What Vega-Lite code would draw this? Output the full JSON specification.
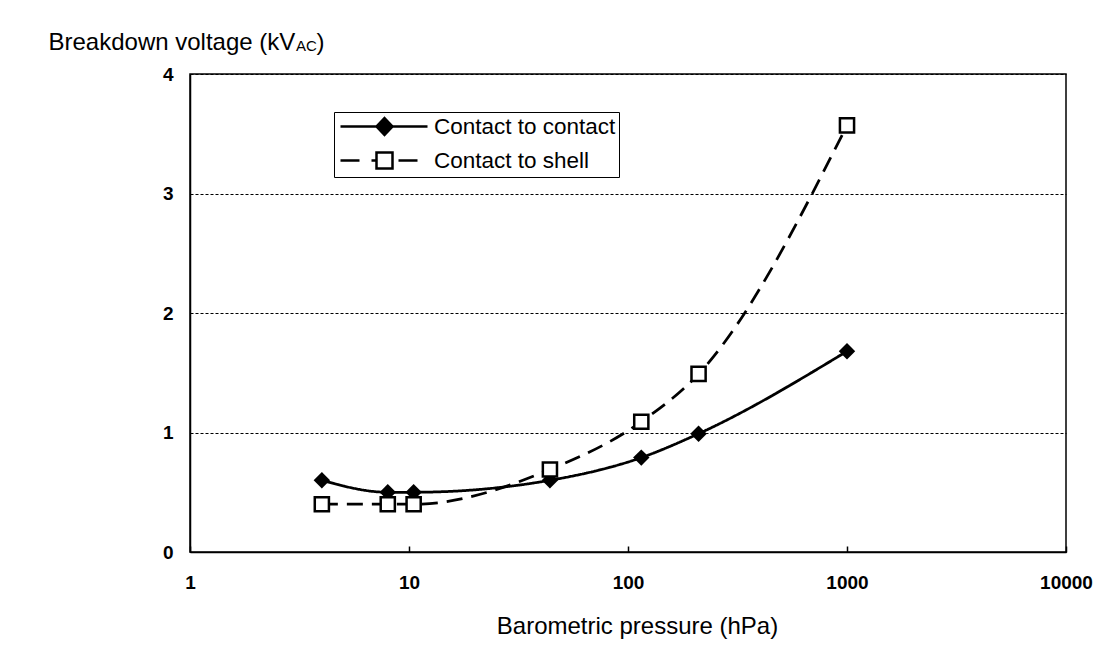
{
  "$schema": "https://vega.github.io/schema/vega-lite/v6.json",
  "autosize": "none",
  "padding": {"left": 190, "top": 74, "right": 54, "bottom": 98},
  "width": 876,
  "height": 478,
  "background": "white",
  "title": {"text": "AC", "anchor": "start", "frame": "group", "orient": "top", "font": "Liberation Sans", "fontSize": 15, "fontWeight": "normal", "color": "black", "baseline": "alphabetic", "offset": 0, "dx": 106, "dy": 36},
  "config": {
    "view": {"stroke": "black", "strokeWidth": 1.5},
    "axis": {"labelFont": "Liberation Sans", "labelFontWeight": "bold", "labelFontSize": 19, "labelColor": "black", "titleFont": "Liberation Sans", "titleFontWeight": "normal", "titleFontSize": 24, "titleColor": "black", "domainColor": "black", "tickColor": "black"}
  },
  "data": {"values": [
    {"series": "Contact to contact", "p": 4, "v": 0.6},
    {"series": "Contact to contact", "p": 8, "v": 0.5},
    {"series": "Contact to contact", "p": 10.5, "v": 0.5},
    {"series": "Contact to contact", "p": 44, "v": 0.6},
    {"series": "Contact to contact", "p": 115, "v": 0.79},
    {"series": "Contact to contact", "p": 210, "v": 0.99},
    {"series": "Contact to contact", "p": 1000, "v": 1.68},
    {"series": "Contact to shell", "p": 4, "v": 0.4},
    {"series": "Contact to shell", "p": 8, "v": 0.4},
    {"series": "Contact to shell", "p": 10.5, "v": 0.4},
    {"series": "Contact to shell", "p": 44, "v": 0.69},
    {"series": "Contact to shell", "p": 115, "v": 1.09},
    {"series": "Contact to shell", "p": 210, "v": 1.49},
    {"series": "Contact to shell", "p": 1000, "v": 3.57}
  ]},
  "resolve": {"axis": {"x": "independent"}},
  "layer": [
    {
      "mark": {"type": "line", "interpolate": "monotone", "color": "black", "strokeWidth": 2.75},
      "encoding": {
        "x": {"field": "p", "type": "quantitative", "scale": {"type": "log", "domain": [1, 10000]},
          "axis": {"orient": "bottom", "values": [1, 10, 100, 1000, 10000], "format": "d", "grid": false, "labelFlush": false, "tickSize": -6, "tickWidth": 1.5, "labelPadding": 27, "domainWidth": 1.5, "labelBaseline": "top", "title": "Barometric pressure (hPa)", "titleX": 447, "titleY": 81, "titleBaseline": "alphabetic"}},
        "y": {"field": "v", "type": "quantitative", "scale": {"domain": [0, 4]},
          "axis": {"values": [0, 1, 2, 3, 4], "format": "d", "grid": true, "gridColor": "black", "gridDash": [3, 2], "gridWidth": 1, "ticks": false, "labelPadding": 17, "domainWidth": 1.5, "title": "Breakdown voltage (kV", "titleAngle": 0, "titleAlign": "left", "titleBaseline": "alphabetic", "titleX": -142, "titleY": -25}},
        "strokeDash": {"field": "series", "type": "nominal", "scale": {"range": [[1, 0], [16, 9]]}, "legend": null}
      }
    },
    {
      "transform": [{"filter": "datum.series === 'Contact to contact'"}],
      "mark": {"type": "point", "shape": "diamond", "filled": true, "color": "black", "opacity": 1, "size": 270},
      "encoding": {
        "x": {"field": "p", "type": "quantitative", "axis": null},
        "y": {"field": "v", "type": "quantitative"}
      }
    },
    {
      "transform": [{"filter": "datum.series === 'Contact to shell'"}],
      "mark": {"type": "point", "shape": "square", "filled": true, "fill": "white", "stroke": "black", "strokeWidth": 2.5, "opacity": 1, "size": 200},
      "encoding": {
        "x": {"field": "p", "type": "quantitative", "axis": null},
        "y": {"field": "v", "type": "quantitative"}
      }
    },
    {
      "mark": {"type": "point", "filled": true, "stroke": "black", "strokeWidth": 2.5, "opacity": 0},
      "encoding": {
        "x": {"field": "p", "type": "quantitative",
          "axis": {"orient": "top", "domain": false, "ticks": false, "labels": false, "grid": false, "title": ")", "titleX": 126, "titleY": -25, "titleAlign": "left", "titleBaseline": "alphabetic", "titleAngle": 0}},
        "y": {"field": "v", "type": "quantitative"},
        "shape": {"field": "series", "type": "nominal",
          "scale": {"range": ["M-0.8,0H7.9M3.6,-0.85L4.4,0L3.6,0.85L2.8,0Z", "M-0.8,0H1.1M2.3,0H2.8M5.0,0H6.9M2.8,-0.8H4.4V0.8H2.8Z"]},
          "legend": {"title": null, "orient": "none", "legendX": 144, "legendY": 38, "strokeColor": "black", "fillColor": "white", "padding": 3, "symbolSize": 400, "symbolStrokeWidth": 2.5, "symbolStrokeColor": "black", "symbolOpacity": 1, "labelFont": "Liberation Sans", "labelFontSize": 22.5, "labelColor": "black", "labelOffset": 74, "rowPadding": 7, "labelLimit": 400,
            "encode": {"symbols": {"update": {"stroke": {"value": "black"}, "strokeWidth": {"value": 2.5}, "strokeOpacity": {"value": 1}}}}}},
        "fill": {"field": "series", "type": "nominal", "scale": {"range": ["black", "white"]},
          "legend": {"title": null, "orient": "none", "legendX": 144, "legendY": 38, "strokeColor": "black", "fillColor": "white", "padding": 3, "symbolSize": 400, "symbolStrokeWidth": 2.5, "symbolStrokeColor": "black", "symbolOpacity": 1, "labelFont": "Liberation Sans", "labelFontSize": 22.5, "labelColor": "black", "labelOffset": 74, "rowPadding": 7, "labelLimit": 400,
            "encode": {"symbols": {"update": {"stroke": {"value": "black"}, "strokeWidth": {"value": 2.5}, "strokeOpacity": {"value": 1}}}}}}
      }
    }
  ]
}
